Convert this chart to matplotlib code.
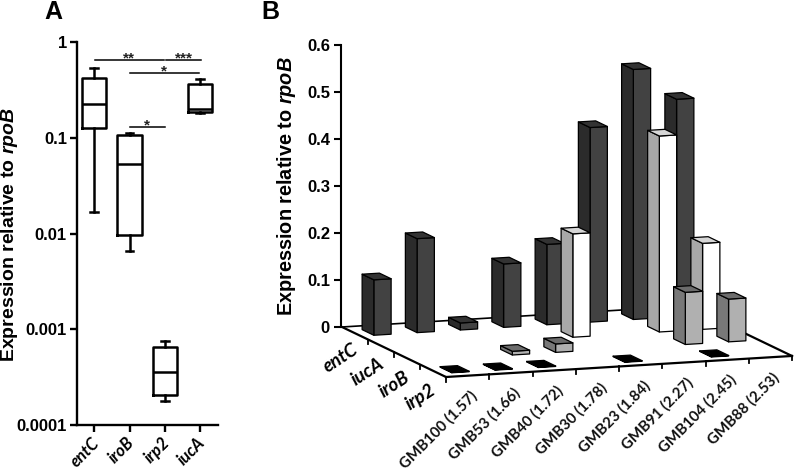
import matplotlib

matplotlib.use("Agg")

import matplotlib.pyplot as plt
from matplotlib.patches import Polygon

plt.rcParams["font.family"] = ["Liberation Sans", "DejaVu Sans"]
plt.rcParams["font.weight"] = "bold"
plt.rcParams["mathtext.fontset"] = "custom"
plt.rcParams["mathtext.it"] = "Liberation Sans:italic:bold"
plt.rcParams["mathtext.rm"] = "Liberation Sans:bold"

W, H = 794, 472
YLABEL = r"Expression relative to $\mathit{rpoB}$"

# Panel A: box plot on a log scale
box_genes = ["entC", "iroB", "irp2", "iucA"]
whisker_low = [0.0167, 0.0066, 0.00018, 0.184]
q1 = [0.127, 0.0096, 0.000206, 0.187]
median = [0.226, 0.054, 0.000355, 0.203]
q3 = [0.42, 0.107, 0.00065, 0.367]
whisker_high = [0.535, 0.113, 0.00075, 0.417]
log_ticks = [0.0001, 0.001, 0.01, 0.1, 1]
log_tick_labels = ["0.0001", "0.001", "0.01", "0.1", "1"]

sig_start = [1.02, 3.03, 2.0, 2.0]
sig_end = [2.97, 4.03, 3.97, 3.0]
sig_y = [0.653, 0.653, 0.474, 0.130]
sig_text = ["**", "***", "*", "*"]

# Panel B: one list per gene row, one value per strain
strains = [
    "GMB100 (1.57)", "GMB53 (1.66)", "GMB40 (1.72)", "GMB30 (1.78)",
    "GMB23 (1.84)", "GMB91 (2.27)", "GMB104 (2.45)", "GMB88 (2.53)",
]
bar_genes = ["entC", "iucA", "iroB", "irp2"]
entC = [0.118, 0.20, 0.015, 0.135, 0.171, 0.414, 0.532, 0.463]
iucA = [0, 0, 0, 0, 0.22, 0, 0.417, 0.183]
iroB = [0, 0, 0.008, 0.018, 0, 0, 0.111, 0.091]
irp2 = [0.001, 0.001, 0.001, 0, 0.001, 0, 0.001, 0]
bar_ticks = [0, 0.1, 0.2, 0.3, 0.4, 0.5, 0.6]
# front, side, top
row_colors = [
    ("#424242", "#2b2b2b", "#333333"),
    ("#ffffff", "#a8a8a8", "#d6d6d6"),
    ("#b0b0b0", "#787878", "#6c6c6c"),
    ("#000000", "#000000", "#000000"),
]

fig = plt.figure(figsize=(W / 100, H / 100), dpi=100)


def add_axes_px(left, top, right, bottom):
    return fig.add_axes([left / W, 1 - bottom / H, (right - left) / W, (bottom - top) / H])


# ---- A ----
ax = add_axes_px(76.7, 42.3, 217.7, 425)
stats = [
    {"whislo": lo, "q1": a, "med": m, "q3": b, "whishi": hi, "fliers": []}
    for lo, a, m, b, hi in zip(whisker_low, q1, median, q3, whisker_high)
]
line = {"color": "black", "linewidth": 1.8}
ax.bxp(
    stats, widths=0.69, capwidths=0.22, showfliers=False,
    boxprops=line, medianprops=line, whiskerprops=line, capprops=line,
)
ax.set_yscale("log")
ax.set_ylim(0.0001, 1)
ax.set_xlim(0.5, 4.5)
ax.set_yticks(log_ticks, log_tick_labels, fontsize=12)
ax.minorticks_off()
ax.set_xticks(range(1, 5), [""] * 4)
ax.tick_params(width=1.7, length=5, pad=2)
for x, name in zip(range(1, 5), box_genes):
    ax.annotate(
        name, (x, 0.0001), xytext=(1.5, -11), textcoords="offset points",
        rotation=45, rotation_mode="anchor", ha="right", va="center",
        family="Lato", style="italic", fontweight="bold", fontsize=12,
    )
ax.spines[["top", "right"]].set_visible(False)
ax.spines[["left", "bottom"]].set_linewidth(1.7)
ax.patch.set_alpha(0)
for x0, x1, y, s in zip(sig_start, sig_end, sig_y, sig_text):
    ax.plot([x0, x1], [y, y], color="black", lw=1.1, clip_on=False)
    ax.annotate(
        s, ((x0 + x1) / 2, y), xytext=(0, -4), textcoords="offset points",
        ha="center", va="bottom", fontsize=11, color="#222222", clip_on=False,
    )
fig.text(10 / W, 1 - 235 / H, YLABEL, rotation=90, ha="center", va="center", fontsize=14)
fig.text(53 / W, 1 - 12 / H, "A", ha="center", va="center", fontsize=18)

# ---- B ----
ORIGIN = (342.0, 327.0)
STRAIN_STEP = (43.25, -2.63)
GENE_STEP = (26.0, 12.5)
UNIT = 470.0  # pixels per 1.0 of expression
BAR_W = 0.40
BAR_D = 0.45

ay = add_axes_px(341, 45, 350, 327)
ay.set_ylim(0, 0.6)
ay.set_xticks([])
ay.set_yticks(bar_ticks, ["0", "0.1", "0.2", "0.3", "0.4", "0.5", "0.6"], fontsize=12)
ay.tick_params(width=1.5, length=5, pad=3)
ay.spines[["top", "right", "bottom"]].set_visible(False)
ay.spines["left"].set_linewidth(1.5)
ay.patch.set_alpha(0)

floor = fig.add_axes([0, 0, 1, 1], zorder=3)
floor.set_xlim(0, W)
floor.set_ylim(H, 0)
floor.axis("off")


def project(u, v, h=0.0):
    return (
        ORIGIN[0] + u * STRAIN_STEP[0] + v * GENE_STEP[0],
        ORIGIN[1] + u * STRAIN_STEP[1] + v * GENE_STEP[1] - h * UNIT,
    )


def draw_bar(u, v, h, colors):
    x0, x1 = u - BAR_W / 2, u + BAR_W / 2
    y0, y1 = v - BAR_D / 2, v + BAR_D / 2
    front = [project(x0, y1), project(x1, y1), project(x1, y1, h), project(x0, y1, h)]
    side = [project(x0, y0), project(x0, y1), project(x0, y1, h), project(x0, y0, h)]
    top = [project(x0, y0, h), project(x0, y1, h), project(x1, y1, h), project(x1, y0, h)]
    for pts, color in zip((front, side, top), colors):
        floor.add_patch(Polygon(pts, closed=True, fc=color, ec="black", lw=0.9, joinstyle="round", zorder=2))


def floor_line(a, b, lw=1.6):
    floor.plot([a[0], b[0]], [a[1], b[1]], color="black", lw=lw, solid_capstyle="projecting", zorder=1)


n_s, n_g = len(strains), len(bar_genes)
floor_line(project(0, 0), project(n_s, 0), lw=1.2)
floor_line(project(n_s, 0), project(n_s, n_g))
floor_line(project(0, 0), project(0, n_g))
floor_line(project(0, n_g), project(n_s, n_g))

for i in range(n_s + 1):
    x, y = project(i, n_g)
    floor.plot([x, x], [y, y + 4.5], color="black", lw=1.3, zorder=1)
for j in range(1, n_g):
    x, y = project(0, j)
    floor.plot([x, x], [y, y + 4.5], color="black", lw=1.3, zorder=1)

for j, values in enumerate([entC, iucA, iroB, irp2]):
    for i in range(n_s - 1, -1, -1):
        if values[i] > 0:
            draw_bar(i + 0.5, j + 0.5, values[i], row_colors[j])

for i, name in enumerate(strains):
    x, y = project(i + 0.5, n_g)
    floor.text(
        x + 7, y + 18, name, rotation=45, rotation_mode="anchor", ha="right", va="center",
        family="Lato", fontweight="bold", fontsize=10.8, color="#111111",
    )
for j, name in enumerate(bar_genes):
    x, y = project(0, j + 0.5)
    floor.text(
        x + 1, y + 15 + j, name, rotation=33, rotation_mode="anchor", ha="right", va="center",
        family="Lato", style="italic", fontweight="bold", fontsize=13.5,
    )

fig.text(287 / W, 1 - 186 / H, YLABEL, rotation=90, ha="center", va="center", fontsize=14.3)
fig.text(270 / W, 1 - 12 / H, "B", ha="center", va="center", fontsize=18)

fig.savefig("out.png", dpi=100)
